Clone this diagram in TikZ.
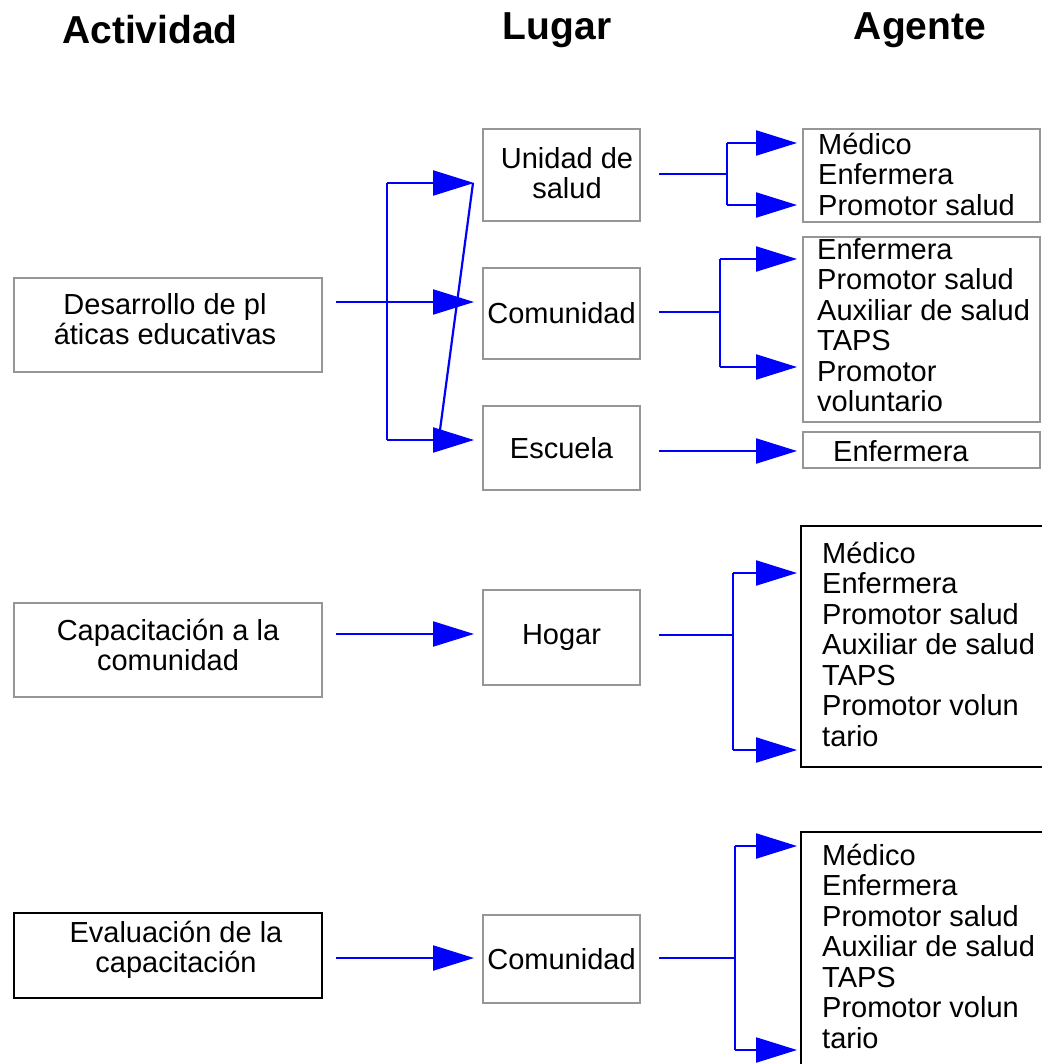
\documentclass[tikz,border=0pt]{standalone}
\usepackage{fontspec}
\setmainfont{Liberation Sans}
\usetikzlibrary{arrows.meta}
\definecolor{boxgray}{RGB}{150,150,150}
\begin{document}
\begin{tikzpicture}[x=1pt,y=-1pt,
  txt/.style={font=\fontsize{29pt}{30.5pt}\selectfont, align=center, inner sep=0pt},
  agtxt/.style={font=\fontsize{29pt}{30.5pt}\selectfont, align=left, inner sep=0pt, anchor=west},
  head/.style={font=\fontsize{39pt}{44pt}\selectfont\bfseries, inner sep=0pt},
  gbox/.style={draw=boxgray, line width=2pt, rectangle, inner sep=0pt, align=center,
    font=\fontsize{29pt}{30.5pt}\selectfont},
  kbox/.style={gbox, draw=black},
  wire/.style={draw=blue, line width=2.2pt},
  arr/.style={wire, -{Triangle[length=41pt,width=25pt]}}
]
\useasboundingbox (0,0) rectangle (1041,1064);

% headers
\node[head] (h1) at (150,30) {Actividad};
\node[head] (h2) at (557,30) {Lugar};
\node[head] (h3) at (920,30) {Agente};

% activity boxes
\node[gbox, minimum width=308pt, minimum height=94pt] (a1) at (168,325) {};
\node[txt] (ta1) at (165,319) {Desarrollo de pl\\áticas educativas};
\node[gbox, minimum width=308pt, minimum height=94pt] (a2) at (168,650) {};
\node[txt] (ta2) at (168,645) {Capacitación a la\\comunidad};
\node[kbox, minimum width=308pt, minimum height=85pt] (a3) at (168,955.5) {};
\node[txt] (ta3) at (176,950) {Evaluación de la\\capacitación};

% place boxes
\node[gbox, minimum width=157pt, minimum height=92pt] (l1) at (561.5,175) {};
\node[txt] (tl1) at (567,173) {Unidad de\\salud};
\node[gbox, minimum width=157pt, minimum height=91pt] (l2) at (561.5,313.5) {Comunidad};
\node[gbox, minimum width=157pt, minimum height=84pt] (l3) at (561.5,448) {Escuela};
\node[gbox, minimum width=157pt, minimum height=95pt] (l4) at (561.5,637.5) {Hogar};
\node[gbox, minimum width=157pt, minimum height=88pt] (l5) at (561.5,959) {Comunidad};

% agent boxes
\node[gbox, minimum width=237pt, minimum height=93pt] (g1) at (921.5,175.5) {};
\node[agtxt] (tg1) at (818,174) {Médico\\Enfermera\\Promotor salud};
\node[gbox, minimum width=237pt, minimum height=185pt] (g2) at (921.5,329.5) {};
\node[agtxt] (tg2) at (817,325) {Enfermera\\Promotor salud\\Auxiliar de salud\\TAPS\\Promotor\\voluntario};
\node[gbox, minimum width=237pt, minimum height=36pt] (g3) at (921.5,450) {};
\node[agtxt] (tg3) at (833,451) {Enfermera};
\node[kbox, minimum width=245pt, minimum height=241pt] (g4) at (923.5,646.5) {};
\node[agtxt] (tg4) at (822,644) {Médico\\Enfermera\\Promotor salud\\Auxiliar de salud\\TAPS\\Promotor volun\\tario};
\node[kbox, minimum width=245pt, minimum height=250pt] (g5) at (923.5,957) {};
\node[agtxt] (tg5) at (822,946) {Médico\\Enfermera\\Promotor salud\\Auxiliar de salud\\TAPS\\Promotor volun\\tario};

% group A: a1 -> l1, l2, l3
\coordinate (fA) at (387,302);
\coordinate (fA1) at (387,183);
\coordinate (fA3) at (387,440);
\coordinate (dA) at (440,430);
\draw[arr, shorten <=13pt, shorten >=8pt] (a1.east |- fA) -- (l2.west |- fA);
\draw[wire] (fA1) -- (fA3);
\draw[arr, shorten >=8pt] (fA1) -- (l1.west |- fA1);
\draw[arr, shorten >=8pt] (fA3) -- (l3.west |- fA3);
\draw[wire] ([xshift=-9pt]l1.west |- fA1) -- (dA);

% group B: l1 -> g1
\coordinate (fB) at (727,174);
\coordinate (fB1) at (727,143);
\coordinate (fB2) at (727,205);
\draw[wire, shorten <=18pt] (l1.east |- fB) -- (fB);
\draw[wire] (fB1) -- (fB2);
\draw[arr, shorten >=5pt] (fB1) -- (g1.west |- fB1);
\draw[arr, shorten >=5pt] (fB2) -- (g1.west |- fB2);

% group C: l2 -> g2
\coordinate (fC) at (720,312);
\coordinate (fC1) at (720,259);
\coordinate (fC2) at (720,367);
\draw[wire, shorten <=18pt] (l2.east |- fC) -- (fC);
\draw[wire] (fC1) -- (fC2);
\draw[arr, shorten >=5pt] (fC1) -- (g2.west |- fC1);
\draw[arr, shorten >=5pt] (fC2) -- (g2.west |- fC2);

% group D: l3 -> g3
\coordinate (fD) at (700,451);
\draw[arr, shorten <=18pt, shorten >=5pt] (l3.east |- fD) -- (g3.west |- fD);

% group E: a2 -> l4
\coordinate (fE) at (400,634);
\draw[arr, shorten <=13pt, shorten >=8pt] (a2.east |- fE) -- (l4.west |- fE);

% group F: l4 -> g4
\coordinate (fF) at (733,635);
\coordinate (fF1) at (733,573);
\coordinate (fF2) at (733,750);
\draw[wire, shorten <=18pt] (l4.east |- fF) -- (fF);
\draw[wire] (fF1) -- (fF2);
\draw[arr, shorten >=3pt] (fF1) -- (g4.west |- fF1);
\draw[arr, shorten >=3pt] (fF2) -- (g4.west |- fF2);

% group G: a3 -> l5
\coordinate (fG) at (400,958);
\draw[arr, shorten <=13pt, shorten >=8pt] (a3.east |- fG) -- (l5.west |- fG);

% group H: l5 -> g5
\coordinate (fH) at (735,958);
\coordinate (fH1) at (735,846);
\coordinate (fH2) at (735,1050);
\draw[wire, shorten <=18pt] (l5.east |- fH) -- (fH);
\draw[wire] (fH1) -- (fH2);
\draw[arr, shorten >=3pt] (fH1) -- (g5.west |- fH1);
\draw[arr, shorten >=3pt] (fH2) -- (g5.west |- fH2);
\end{tikzpicture}
\end{document}
